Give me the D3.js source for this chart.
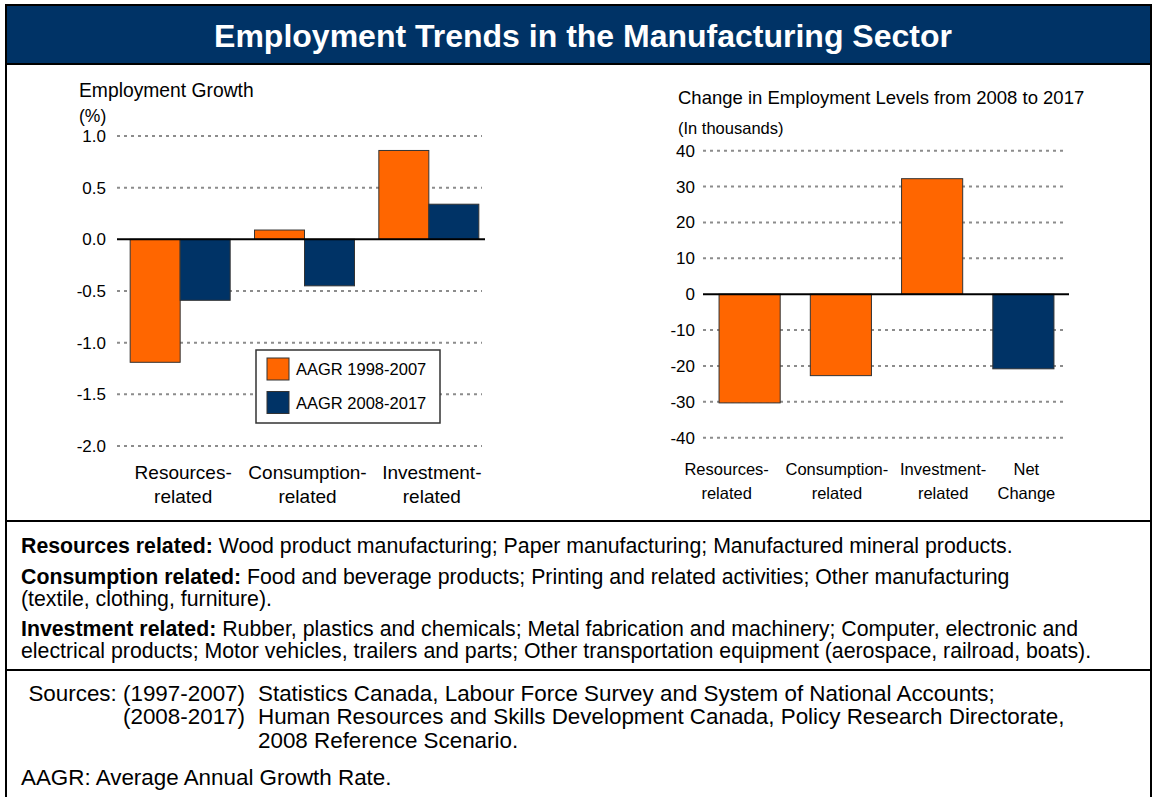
<!DOCTYPE html>
<html>
<head>
<meta charset="utf-8">
<script src="https://cdn.jsdelivr.net/npm/d3@7"></script>
<style>
  html, body { margin: 0; padding: 0; background: #fff; }
  svg { display: block; font-family: "Liberation Sans", Arial, Helvetica, sans-serif; }
</style>
</head>
<body>
<svg id="chart" width="1153" height="797"></svg>
<script>
// ---- Data ----
const growthCategories = [["Resources-", "related"], ["Consumption-", "related"], ["Investment-", "related"]];
const growthSeries = ["AAGR 1998-2007", "AAGR 2008-2017"];
const growth1998 = [-1.19, 0.09, 0.86];
const growth2008 = [-0.59, -0.45, 0.34];
const growthTicks = [1.0, 0.5, 0.0, -0.5, -1.0, -1.5, -2.0];

const levelCategories = [["Resources-", "related"], ["Consumption-", "related"], ["Investment-", "related"], ["Net", "Change"]];
const levelChange = [-30.3, -22.7, 32.2, -20.8];
const levelTicks = [40, 30, 20, 10, 0, -10, -20, -30, -40];

const ORANGE = "#FF6600";
const NAVY = "#003366";
const NOTE_SIZE = 21.3;
const SOURCE_SIZE = 22.4;

const svg = d3.select("#chart");
const W = 1153, H = 797;

// ---- Frame and title band ----
svg.append("rect").attr("x", 6).attr("y", 5).attr("width", 1145).attr("height", H + 10)
  .attr("fill", "#fff").attr("stroke", "#000").attr("stroke-width", 2);
svg.append("rect").attr("x", 6).attr("y", 5).attr("width", 1145).attr("height", 59)
  .attr("fill", NAVY).attr("stroke", "#000").attr("stroke-width", 2);
svg.append("text").attr("x", 583).attr("y", 47).attr("text-anchor", "middle")
  .attr("fill", "#fff").attr("font-weight", "bold").attr("font-size", 32)
  .text("Employment Trends in the Manufacturing Sector");

// section dividers
[521, 670].forEach(y => {
  svg.append("line").attr("x1", 6).attr("x2", 1151).attr("y1", y).attr("y2", y)
    .attr("stroke", "#000").attr("stroke-width", 2);
});

// ---- Left chart: employment growth ----
const gL = svg.append("g");
const yL = d3.scaleLinear().domain([-2, 1]).range([446, 136]);
const xL = d3.scaleBand().domain(d3.range(growthCategories.length)).range([118, 491]);
const xLInner = d3.scaleBand().domain(growthSeries).range([0, 100]);
const offL = (xL.bandwidth() - 100) / 2;

gL.append("text").attr("x", 79).attr("y", 97).attr("font-size", 19.3).text("Employment Growth");
gL.append("text").attr("x", 79).attr("y", 122).attr("font-size", 17.5).text("(%)");

gL.selectAll(".gridL").data(growthTicks.filter(d => d !== 0)).join("line")
  .attr("x1", 117).attr("x2", 482).attr("y1", d => yL(d)).attr("y2", d => yL(d))
  .attr("stroke", "#8c8c8c").attr("stroke-width", 2).attr("stroke-dasharray", "3 4");

const axisL = d3.axisLeft(yL).tickValues(growthTicks).tickFormat(d3.format(".1f")).tickSize(0).tickPadding(0);
const axL = gL.append("g").attr("transform", "translate(106,0)").call(axisL);
axL.select(".domain").remove();
axL.selectAll("text").attr("font-size", 17).attr("font-family", null).attr("fill", "#000")
  .text(d => d3.format(".1f")(d).replace("−", "-"));

const growthRows = growthCategories.map((c, i) => ({ i, values: [growth1998[i], growth2008[i]] }));
const groupsL = gL.selectAll(".grp").data(growthRows).join("g")
  .attr("transform", d => `translate(${xL(d.i) + offL},0)`);
groupsL.selectAll("rect").data(d => d.values.map((v, k) => ({ v, s: growthSeries[k] }))).join("rect")
  .attr("x", d => xLInner(d.s)).attr("width", xLInner.bandwidth())
  .attr("y", d => yL(Math.max(0, d.v))).attr("height", d => Math.abs(yL(d.v) - yL(0)))
  .attr("fill", d => d.s === growthSeries[0] ? ORANGE : NAVY)
  .attr("stroke", "#333").attr("stroke-width", 1);

gL.append("line").attr("x1", 117).attr("x2", 485).attr("y1", yL(0)).attr("y2", yL(0))
  .attr("stroke", "#000").attr("stroke-width", 2);

gL.selectAll(".catL").data(growthCategories).join("text")
  .attr("text-anchor", "middle").attr("font-size", 19)
  .attr("transform", (d, i) => `translate(${xL(i) + xL.bandwidth() / 2 + 3},479)`)
  .each(function (d) {
    d3.select(this).selectAll("tspan").data(d).join("tspan")
      .attr("x", 0).attr("dy", (t, k) => k === 0 ? 0 : 24).text(t => t);
  });

// legend
const leg = gL.append("g");
leg.append("rect").attr("x", 256).attr("y", 350).attr("width", 184).attr("height", 73)
  .attr("fill", "#fff").attr("stroke", "#333").attr("stroke-width", 1.5);
growthSeries.forEach((s, k) => {
  const y0 = 358 + k * 33.5;
  leg.append("rect").attr("x", 267).attr("y", y0).attr("width", 22).attr("height", 22)
    .attr("fill", k === 0 ? ORANGE : NAVY).attr("stroke", "#333").attr("stroke-width", 1);
  leg.append("text").attr("x", 296).attr("y", y0 + 17).attr("font-size", 16.5).text(s);
});

// ---- Right chart: change in employment levels ----
const gR = svg.append("g");
const yR = d3.scaleLinear().domain([-40, 40]).range([437.7, 150.7]);
const xR = d3.scaleBand().domain(d3.range(levelCategories.length)).range([704, 1069])
  .paddingInner(0.33).paddingOuter(0.165);
const labelNudge = [-23, -4, 11, 3];

gR.append("text").attr("x", 678).attr("y", 104).attr("font-size", 18.5)
  .text("Change in Employment Levels from 2008 to 2017");
gR.append("text").attr("x", 678).attr("y", 134).attr("font-size", 16.5).text("(In thousands)");

gR.selectAll(".gridR").data(levelTicks.filter(d => d !== 0)).join("line")
  .attr("x1", 703).attr("x2", 1066).attr("y1", d => yR(d)).attr("y2", d => yR(d))
  .attr("stroke", "#8c8c8c").attr("stroke-width", 2).attr("stroke-dasharray", "3 4");

const axisR = d3.axisLeft(yR).tickValues(levelTicks).tickFormat(d3.format("d")).tickSize(0).tickPadding(0);
const axR = gR.append("g").attr("transform", "translate(695,0)").call(axisR);
axR.select(".domain").remove();
axR.selectAll("text").attr("font-size", 17).attr("font-family", null).attr("fill", "#000")
  .text(d => String(d));

gR.selectAll(".barR").data(levelChange).join("rect")
  .attr("x", (d, i) => xR(i)).attr("width", xR.bandwidth())
  .attr("y", d => yR(Math.max(0, d))).attr("height", d => Math.abs(yR(d) - yR(0)))
  .attr("fill", (d, i) => i === levelChange.length - 1 ? NAVY : ORANGE)
  .attr("stroke", "#333").attr("stroke-width", 1);

gR.append("line").attr("x1", 703).attr("x2", 1069).attr("y1", yR(0)).attr("y2", yR(0))
  .attr("stroke", "#000").attr("stroke-width", 2);

gR.selectAll(".catR").data(levelCategories).join("text")
  .attr("text-anchor", "middle").attr("font-size", 16.5)
  .attr("transform", (d, i) => `translate(${xR(i) + xR.bandwidth() / 2 + labelNudge[i]},475)`)
  .each(function (d) {
    d3.select(this).selectAll("tspan").data(d).join("tspan")
      .attr("x", 0).attr("dy", (t, k) => k === 0 ? 0 : 23.5).text(t => t);
  });

// ---- Notes ----
const notes = [
  { y: 553, bold: "Resources related:", text: " Wood product manufacturing; Paper manufacturing; Manufactured mineral products." },
  { y: 584, bold: "Consumption related:", text: " Food and beverage products; Printing and related activities; Other manufacturing" },
  { y: 606, bold: "", text: "(textile, clothing, furniture)." },
  { y: 636, bold: "Investment related:", text: " Rubber, plastics and chemicals; Metal fabrication and machinery; Computer, electronic and" },
  { y: 658, bold: "", text: "electrical products; Motor vehicles, trailers and parts; Other transportation equipment (aerospace, railroad, boats)." }
];
notes.forEach(n => {
  const t = svg.append("text").attr("x", 21).attr("y", n.y).attr("font-size", NOTE_SIZE);
  if (n.bold) t.append("tspan").attr("font-weight", "bold").text(n.bold);
  t.append("tspan").text(n.text);
});

// ---- Sources ----
const sources = [
  { y: 700.5, left: "Sources: (1997-2007)", right: "Statistics Canada, Labour Force Survey and System of National Accounts;" },
  { y: 724, left: "(2008-2017)", right: "Human Resources and Skills Development Canada, Policy Research Directorate," },
  { y: 747.5, left: "", right: "2008 Reference Scenario." }
];
sources.forEach(s => {
  if (s.left) svg.append("text").attr("x", 245).attr("y", s.y).attr("text-anchor", "end")
    .attr("font-size", SOURCE_SIZE).text(s.left);
  svg.append("text").attr("x", 258).attr("y", s.y).attr("font-size", SOURCE_SIZE).text(s.right);
});
svg.append("text").attr("x", 21).attr("y", 785).attr("font-size", SOURCE_SIZE).text("AAGR: Average Annual Growth Rate.");
</script>
</body>
</html>
